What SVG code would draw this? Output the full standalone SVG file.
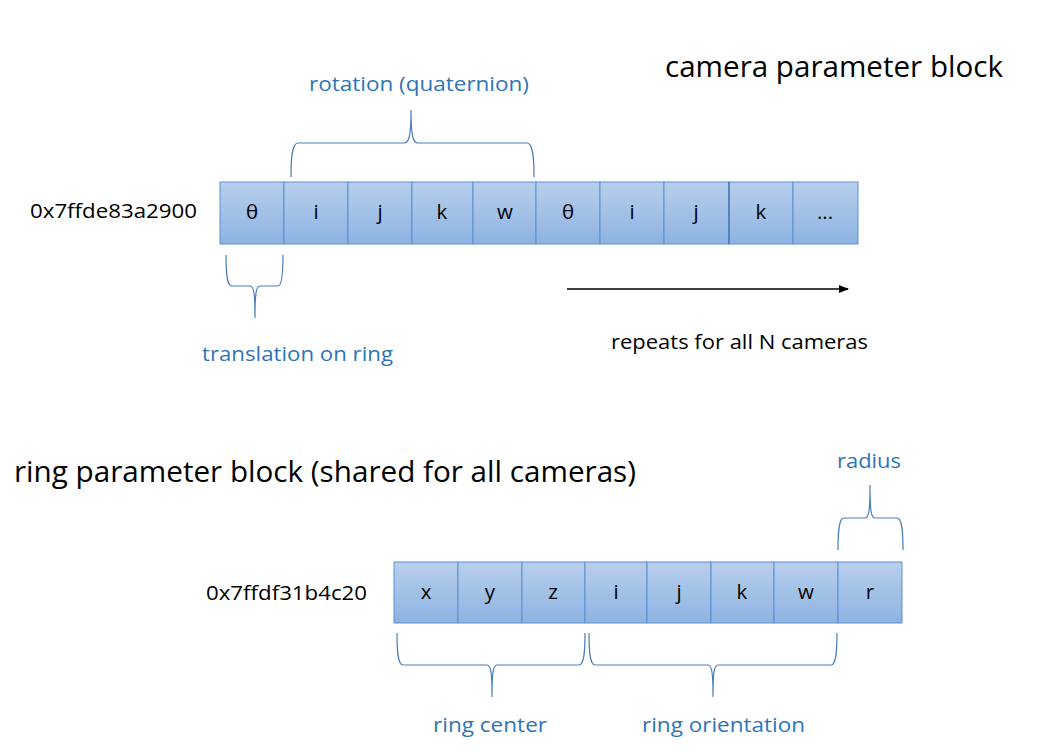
<svg xmlns="http://www.w3.org/2000/svg" width="1051" height="755" viewBox="0 0 1051 755">
<style>
text{font-family:"Open Sans","Liberation Sans",sans-serif;}
.lbl{font-size:20.5px;fill:#2E75B6;}
.blk{font-size:20.5px;fill:#000;}
.big{font-size:29.5px;fill:#000;}
.cell{fill:url(#g);stroke:#5B8FD0;stroke-width:1;}
.ct{font-size:20.5px;fill:#000;text-anchor:middle;}
.brace{fill:none;stroke:#4A7EBB;stroke-width:1.2;}
</style>
<defs>
<linearGradient id="g" x1="0" y1="0" x2="0" y2="1">
<stop offset="0" stop-color="#B8CFEC"/>
<stop offset="1" stop-color="#8DB3E2"/>
</linearGradient>
<marker id="ah" markerWidth="10" markerHeight="8" refX="9" refY="4" orient="auto" markerUnits="userSpaceOnUse">
<path d="M0,0 L10,4 L0,8 Z" fill="#000"/>
</marker>
</defs>
<rect width="1051" height="755" fill="#fff"/>

<g id="title-camera"><text class="big" x="665" y="77" textLength="338" lengthAdjust="spacingAndGlyphs">camera parameter block</text></g>
<g id="label-rotation"><text class="lbl" x="309" y="91" textLength="220" lengthAdjust="spacingAndGlyphs">rotation (quaternion)</text></g>

<g id="camera-block">
<text class="blk" x="30" y="218" textLength="167" lengthAdjust="spacingAndGlyphs">0x7ffde83a2900</text>
<rect class="cell" x="220" y="182" width="64" height="62"/>
<rect class="cell" x="284" y="182" width="64" height="62"/>
<rect class="cell" x="348" y="182" width="64" height="62"/>
<rect class="cell" x="412" y="182" width="61" height="62"/>
<rect class="cell" x="473" y="182" width="63" height="62"/>
<rect class="cell" x="536" y="182" width="64" height="62"/>
<rect class="cell" x="600" y="182" width="64" height="62"/>
<rect class="cell" x="664" y="182" width="65" height="62"/>
<rect class="cell" x="729" y="182" width="64" height="62"/>
<rect class="cell" x="793" y="182" width="65" height="62"/>
<line x1="729" y1="182" x2="729" y2="244" stroke="#4A7EBB" stroke-width="1.6"/>
<text class="ct" x="252" y="219">θ</text>
<text class="ct" x="316" y="219">i</text>
<text class="ct" x="380" y="219">j</text>
<text class="ct" x="442" y="219">k</text>
<text class="ct" x="505" y="219">w</text>
<text class="ct" x="568" y="219">θ</text>
<text class="ct" x="632" y="219">i</text>
<text class="ct" x="696" y="219">j</text>
<text class="ct" x="761" y="219">k</text>
<text class="ct" x="825" y="219">...</text>
</g>

<g id="label-translation"><text class="lbl" x="202" y="361" textLength="191" lengthAdjust="spacingAndGlyphs">translation on ring</text></g>
<g id="label-repeats"><text class="blk" x="611" y="349" textLength="257" lengthAdjust="spacingAndGlyphs">repeats for all N cameras</text></g>

<g id="title-ring"><text class="big" x="14" y="482" textLength="622" lengthAdjust="spacingAndGlyphs">ring parameter block (shared for all cameras)</text></g>
<g id="label-radius"><text class="lbl" x="837" y="468" textLength="64" lengthAdjust="spacingAndGlyphs">radius</text></g>

<g id="ring-block">
<text class="blk" x="206" y="600" textLength="161" lengthAdjust="spacingAndGlyphs">0x7ffdf31b4c20</text>
<rect class="cell" x="394" y="562" width="64" height="61"/>
<rect class="cell" x="458" y="562" width="64" height="61"/>
<rect class="cell" x="522" y="562" width="63" height="61"/>
<rect class="cell" x="585" y="562" width="62" height="61"/>
<rect class="cell" x="647" y="562" width="64" height="61"/>
<rect class="cell" x="711" y="562" width="63" height="61"/>
<rect class="cell" x="774" y="562" width="64" height="61"/>
<rect class="cell" x="838" y="562" width="64" height="61"/>
<text class="ct" x="426" y="599">x</text>
<text class="ct" x="490" y="599">y</text>
<text class="ct" x="553" y="599">z</text>
<text class="ct" x="616" y="599">i</text>
<text class="ct" x="679" y="599">j</text>
<text class="ct" x="742" y="599">k</text>
<text class="ct" x="806" y="599">w</text>
<text class="ct" x="870" y="599">r</text>
</g>

<g id="label-ring-center"><text class="lbl" x="433" y="732" textLength="114" lengthAdjust="spacingAndGlyphs">ring center</text></g>
<g id="label-ring-orientation"><text class="lbl" x="642" y="732" textLength="163" lengthAdjust="spacingAndGlyphs">ring orientation</text></g>

<g id="connectors">
<path class="brace" d="M291,177 C291,158 292,143 298,143 L404,143 C409,143 411,136 411,110 C411,136 413,143 418,143 L527,143 C533,143 534,158 534,177"/>
<path class="brace" d="M226,255 C226,274 227,286 232,286 L250,286 C254,286 255,294 255,318 C255,294 256,286 260,286 L278,286 C282,286 283,274 283,255"/>
<path class="brace" d="M838,550 C838,531 839,518 844,518 L865,518 C869,518 870,510 870,485 C870,510 871,518 875,518 L897,518 C902,518 903,531 903,550"/>
<path class="brace" d="M397,633 C397,652 398,665 403,665 L487,665 C491,665 492,673 492,697 C492,673 493,665 497,665 L579,665 C584,665 585,652 585,633"/>
<path class="brace" d="M589,633 C589,652 590,665 595,665 L708,665 C712,665 713,673 713,697 C713,673 714,665 718,665 L831,665 C836,665 837,652 837,633"/>
<line x1="567" y1="289" x2="848" y2="289" stroke="#000" stroke-width="1.3" marker-end="url(#ah)"/>
</g>
</svg>
